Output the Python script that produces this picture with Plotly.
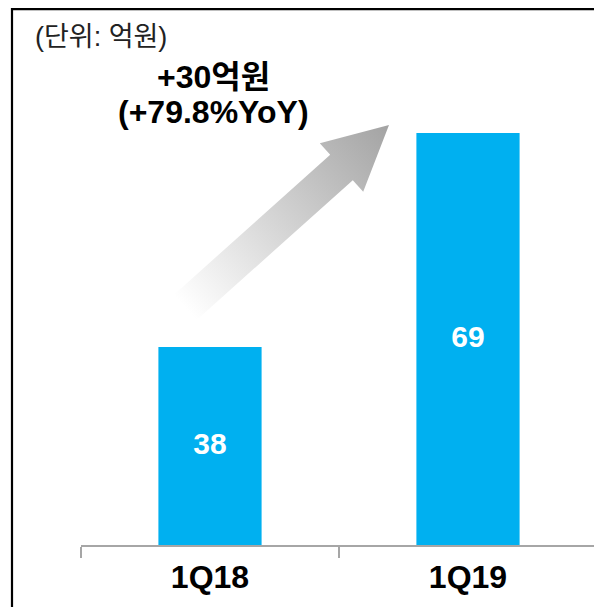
import base64
import plotly.graph_objects as go

# ---- data ----
categories = ["1Q18", "1Q19"]
values = [38, 69]
value_labels = ["38", "69"]
unit_label = "(단위: 억원)"
growth_label = "+30억원"
growth_pct_label = "(+79.8%YoY)"
y_min, y_max = 9.32, 85.37

# ---- layout geometry (pixels) ----
OFF = 8  # page body margin
W, H = 602, 607
L, R, T, B = 73, 13, 12, 70
PW, PH = W - L - R, H - T - B


def px(x):
    return (x - OFF - L) / PW


def py(y):
    return (H - B - (y - OFF)) / PH


FONT = "Liberation Sans, Arial, Noto Sans CJK KR, sans-serif"

fig = go.Figure()
fig.add_trace(go.Bar(
    x=categories,
    y=values,
    width=0.4,
    marker=dict(color="#00B0F0", line=dict(width=0)),
    textposition="none",
    hoverinfo="x+y",
))
# value labels centred in the visible part of each bar
fig.add_trace(go.Scatter(
    x=categories,
    y=[(v + y_min) / 2 for v in values],
    mode="text",
    text=value_labels,
    textposition="middle center",
    textfont=dict(color="white", size=30, family=FONT, weight="bold"),
    hoverinfo="skip",
))

# gradient arrow as inline SVG image (screen-pixel geometry)
ox, oy, bw, bh = 165, 115, 240, 220
tip = (389, 125)
M = (341.5, 167.5)
u = (0.745, -0.667)
n = (0.667, 0.745)
hw, sw, sl = 32.6, 17.0, 210.0
tail = (M[0] - sl * u[0], M[1] - sl * u[1])
pts = [
    tip,
    (M[0] + hw * n[0], M[1] + hw * n[1]),
    (M[0] + sw * n[0], M[1] + sw * n[1]),
    (tail[0] + sw * n[0], tail[1] + sw * n[1]),
    (tail[0] - sw * n[0], tail[1] - sw * n[1]),
    (M[0] - sw * n[0], M[1] - sw * n[1]),
    (M[0] - hw * n[0], M[1] - hw * n[1]),
]
ptstr = " ".join(f"{x - ox:.1f},{y - oy:.1f}" for x, y in pts)
svg = (
    f'<svg xmlns="http://www.w3.org/2000/svg" width="{bw}" height="{bh}" viewBox="0 0 {bw} {bh}">'
    f'<defs><linearGradient id="g" gradientUnits="userSpaceOnUse" '
    f'x1="{tail[0]-ox:.1f}" y1="{tail[1]-oy:.1f}" x2="{tip[0]-ox:.1f}" y2="{tip[1]-oy:.1f}">'
    f'<stop offset="0" stop-color="#ffffff"/><stop offset="1" stop-color="#a3a3a3"/>'
    f'</linearGradient></defs>'
    f'<polygon points="{ptstr}" fill="url(#g)"/></svg>'
)
src = "data:image/svg+xml;base64," + base64.b64encode(svg.encode()).decode()
fig.add_layout_image(dict(
    source=src, xref="paper", yref="paper",
    x=px(ox), y=py(oy), sizex=bw / PW, sizey=bh / PH,
    xanchor="left", yanchor="top", sizing="stretch", layer="above",
))

# border box
fig.add_shape(type="rect", xref="paper", yref="paper",
              x0=px(12), x1=px(720), y0=py(720), y1=py(9.2),
              line=dict(color="black", width=2.2), fillcolor="rgba(0,0,0,0)")

fig.add_annotation(text=unit_label, xref="paper", yref="paper",
                   x=px(33), y=py(37), xanchor="left", yanchor="middle",
                   showarrow=False, font=dict(size=27, color="#222222", family=FONT))
fig.add_annotation(text=growth_label, xref="paper", yref="paper",
                   x=px(213), y=py(77), xanchor="center", yanchor="middle",
                   showarrow=False, font=dict(size=32, color="black", family=FONT, weight="bold"))
fig.add_annotation(text=growth_pct_label, xref="paper", yref="paper",
                   x=px(213), y=py(112), xanchor="center", yanchor="middle",
                   showarrow=False, font=dict(size=32, color="black", family=FONT, weight="bold"))

fig.update_layout(
    width=W, height=H,
    margin=dict(l=L, r=R, t=T, b=B),
    paper_bgcolor="white", plot_bgcolor="white",
    showlegend=False,
    xaxis=dict(
        type="category", range=[-0.5, 1.5],
        showline=True, linecolor="#a6a6a6", linewidth=2,
        ticks="outside", tickson="boundaries", ticklen=11, tickwidth=2, tickcolor="#a6a6a6",
        ticklabelstandoff=3,
        showgrid=False, zeroline=False,
        tickfont=dict(size=32, color="black", family=FONT, weight="bold"),
    ),
    yaxis=dict(range=[y_min, y_max], visible=False, showgrid=False, zeroline=False),
)

fig.write_html("out.html")
